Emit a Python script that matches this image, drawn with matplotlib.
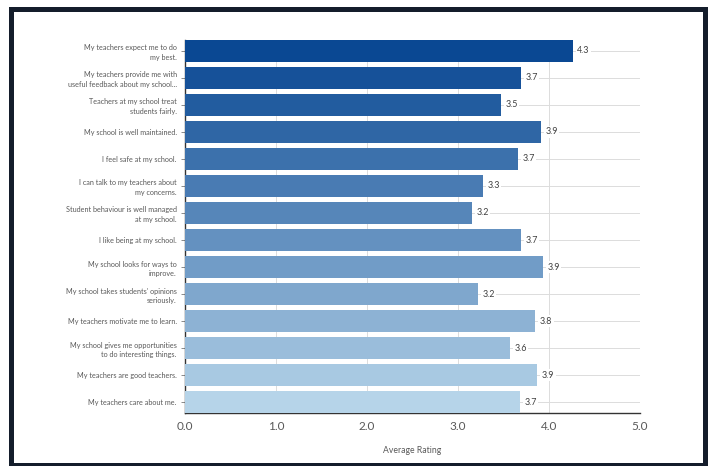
import matplotlib
matplotlib.use("Agg")
import matplotlib.pyplot as plt
from matplotlib.patches import Rectangle
import numpy as np

categories = [
    "My teachers expect me to do\nmy best.",
    "My teachers provide me with\nuseful feedback about my school...",
    "Teachers at my school treat\nstudents fairly.",
    "My school is well maintained.",
    "I feel safe at my school.",
    "I can talk to my teachers about\nmy concerns.",
    "Student behaviour is well managed\nat my school.",
    "I like being at my school.",
    "My school looks for ways to\nimprove.",
    "My school takes students' opinions\nseriously.",
    "My teachers motivate me to learn.",
    "My school gives me opportunities\nto do interesting things.",
    "My teachers are good teachers.",
    "My teachers care about me.",
]
values = [4.26, 3.69, 3.47, 3.91, 3.66, 3.27, 3.15, 3.69, 3.93, 3.22, 3.85, 3.57, 3.87, 3.68]
value_labels = ["4.3", "3.7", "3.5", "3.9", "3.7", "3.3", "3.2", "3.7", "3.9", "3.2", "3.8", "3.6", "3.9", "3.7"]
xticks = [0.0, 1.0, 2.0, 3.0, 4.0, 5.0]
xtick_labels = ["0.0", "1.0", "2.0", "3.0", "4.0", "5.0"]
xlabel = "Average Rating"

plt.rcParams['font.family'] = ['Lato', 'DejaVu Sans']

fig = plt.figure(figsize=(7.11, 4.66), dpi=100)
W, H = 711, 466
ax = fig.add_axes([185 / W, 1 - 413 / H, (640 - 185) / W, (413 - 40) / H])

n = len(categories)
ypos = np.arange(n)[::-1]
dark = np.array([0x0a, 0x48, 0x93]) / 255
light = np.array([0xb6, 0xd4, 0xe9]) / 255
t = np.linspace(0, 1, n) ** 1.05
colors = [tuple(dark + (light - dark) * ti) for ti in t]

ax.barh(ypos, values, height=0.8, color=colors, zorder=3)
for y, v, lab in zip(ypos, values, value_labels):
    ax.text(v + 0.05, y, lab, va='center', ha='left', fontsize=6.4, color='#404040', zorder=4,
            bbox=dict(facecolor='white', edgecolor='none', pad=1.0))

ax.set_ylim(-0.4, n - 1 + 0.4)
ax.set_xlim(0, 5.0)
ax.set_yticks(ypos)
ax.set_yticklabels(categories, fontsize=5.2, color='#595959', linespacing=1.45)
ax.set_xticks(xticks)
ax.set_xticklabels(xtick_labels, fontsize=8.5, color='#595959')
ax.set_xlabel(xlabel, fontsize=6.2, color='#595959', labelpad=10)

ax.grid(True, color='#dcdcdc', linewidth=0.7, zorder=0)
ax.set_axisbelow(True)
for s in ['top', 'right']:
    ax.spines[s].set_visible(False)
ax.spines['left'].set_color('#333333')
ax.spines['bottom'].set_color('#333333')
ax.spines['left'].set_linewidth(1.0)
ax.spines['bottom'].set_linewidth(1.0)
ax.tick_params(axis='y', length=3, width=0.6, color='#777777', pad=3)
ax.tick_params(axis='x', length=0, pad=6)

# outer dark frame
lw_px = 5
frame = Rectangle((10.5 / W, 1 - 464.5 / H), (704.5 - 10.5) / W, (464.5 - 9) / H,
                  transform=fig.transFigure, fill=False, edgecolor='#141d2b',
                  linewidth=lw_px * 72 / 100)
fig.patches.append(frame)

fig.savefig("out.png", dpi=100, facecolor='white')
